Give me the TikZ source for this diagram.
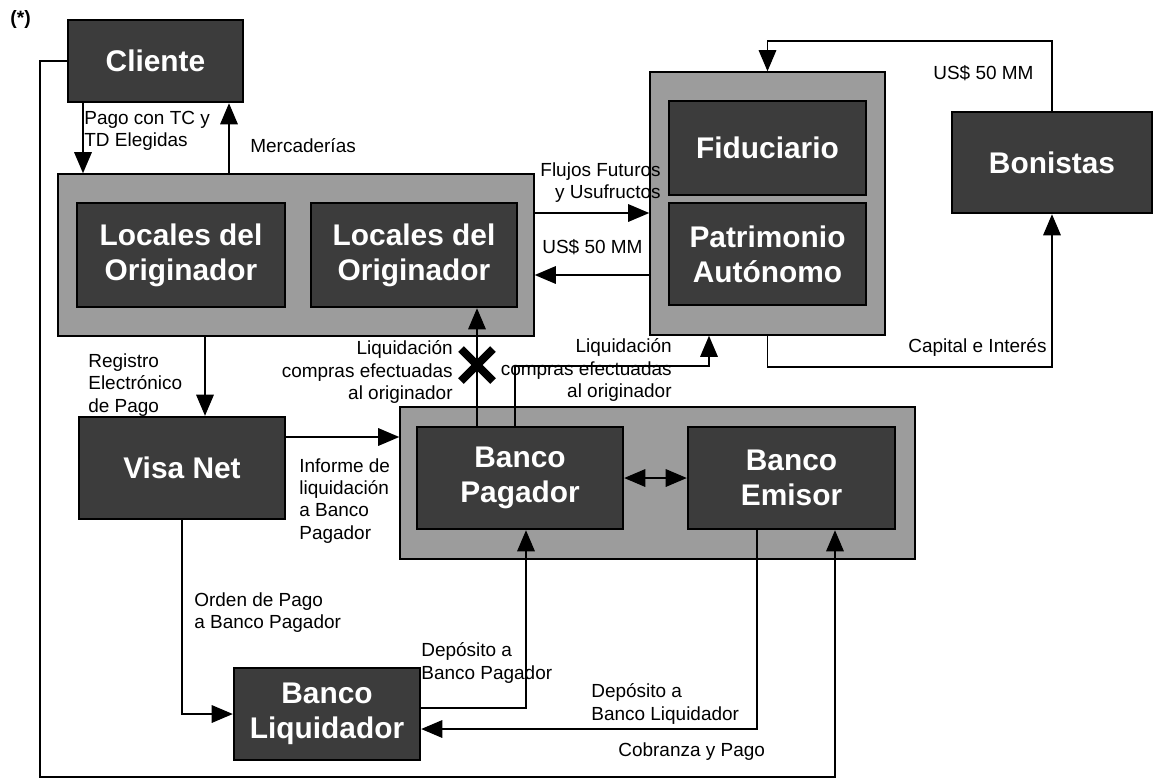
\documentclass[tikz,border=0pt]{standalone}
\usepackage{fontspec}
\setmainfont{Liberation Sans}
\usetikzlibrary{arrows.meta, positioning}
\definecolor{boxdark}{RGB}{60,60,60}
\definecolor{boxlight}{RGB}{156,156,156}

\begin{document}
\begin{tikzpicture}[x=0.02cm, y=-0.02cm,
    outer/.style={draw=black, line width=0.9pt, fill=boxlight, inner sep=0pt},
    inner/.style={draw=black, line width=1.4pt, fill=boxdark, text=white, align=center, inner sep=0pt, font=\fontsize{17}{20}\selectfont\bfseries},
    lbl/.style={inner sep=0pt, font=\fontsize{10.8}{12.6}\selectfont},
    arr/.style={line width=0.8pt, -{Triangle[length=12pt,width=10pt]}},
    darr/.style={line width=0.8pt, {Triangle[length=12pt,width=10pt]}-{Triangle[length=12pt,width=10pt]}},
    con/.style={line width=0.8pt}]
  \useasboundingbox (0,0) rectangle (1154,779);
  \node[lbl, anchor=west, font=\fontsize{11}{12}\selectfont\bfseries] (nota) at (10,19) {(*)};
  % Group boxes
  \node[outer, minimum width=9.52cm, minimum height=3.24cm] (orig) at (296,255) {};
  \node[outer, minimum width=4.7cm, minimum height=5.26cm] (fidbox) at (767.5,203.5) {};
  \node[outer, minimum width=10.3cm, minimum height=3.04cm] (bancos) at (657.5,483) {};
  % Parties
  \node[inner, minimum width=3.5cm, minimum height=1.64cm] (cliente) at (155.5,61) {Cliente};
  \node[inner, minimum width=4.16cm, minimum height=2.08cm] (loc1) at (181,255) {Locales del\\Originador};
  \node[inner, minimum width=4.12cm, minimum height=2.08cm] (loc2) at (414,255) {Locales del\\Originador};
  \node[inner, minimum width=3.94cm, minimum height=1.88cm] (fiduciario) at (767.5,148) {Fiduciario};
  \node[inner, minimum width=3.94cm, minimum height=2.04cm] (patrimonio) at (767.5,254) {Patrimonio\\Autónomo};
  \node[inner, minimum width=4.0cm, minimum height=2.02cm] (bonistas) at (1052,162.5) {Bonistas};
  \node[inner, minimum width=4.12cm, minimum height=2.04cm] (visa) at (182,468) {Visa Net};
  \node[inner, minimum width=4.12cm, minimum height=2.04cm] (pagador) at (520,478) {Banco\\Pagador};
  \node[inner, minimum width=4.14cm, minimum height=2.04cm] (emisor) at (791.5,478) {Banco\\Emisor};
  \node[inner, minimum width=3.72cm, minimum height=1.84cm] (liquidador) at (327,714) {Banco\\Liquidador};
  % Cliente and Originador
  \draw[arr] (cliente.south -| 83,0) -- (orig.north -| 83,0);
  \draw[arr] (orig.north -| 229,0) -- (cliente.south -| 229,0);
  \node[lbl, anchor=west, align=left] (pago) at (84,131) {Pago con TC y\\TD Elegidas};
  \node[lbl, anchor=west] (merc) at (250,146) {Mercaderías};
  % Originador and Patrimonio
  \draw[arr] (orig.east |- 0,213) -- (fidbox.west |- 0,213);
  \draw[arr] (fidbox.west |- 0,275) -- (orig.east |- 0,275);
  \node[lbl, anchor=east, align=right] (flujos) at (661,183) {Flujos Futuros\\y Usufructos};
  \node[lbl, anchor=west] (usa) at (542,247) {US\$ 50 MM};
  % Bonistas
  \draw[arr] (bonistas.north) -- (bonistas.north |- 0,41) -| (fidbox.north);
  \draw[arr] (fidbox.south) -- (fidbox.south |- 0,367) -| (bonistas.south);
  \node[lbl, anchor=west] (usb) at (933,73) {US\$ 50 MM};
  \node[lbl, anchor=west] (capital) at (908,347) {Capital e Interés};
  % Visa Net
  \draw[arr] (orig.south -| 205,0) -- (visa.north -| 205,0);
  \draw[arr] (visa.east |- 0,437) -- (bancos.west |- 0,437);
  \node[lbl, anchor=west, align=left] (registro) at (88,385) {Registro\\Electrónico\\de Pago};
  \node[lbl, anchor=west, align=left] (informe) at (299,501) {Informe de\\liquidación\\a Banco\\Pagador};
  % Liquidacion
  \draw[arr] (pagador.north -| 477,0) -- (loc2.south -| 477,0);
  \coordinate (corte) at (477,365);
  \draw[line width=4.5pt] (corte) ++(-16,-16) -- ++(32,32) (corte) ++(16,-16) -- ++(-32,32);
  \draw[arr] (pagador.north -| 515,0) -- (515,366) -- (709,366) -- (fidbox.south -| 709,0);
  \node[lbl, anchor=east, align=right] (liqa) at (453,372) {Liquidación\\compras efectuadas\\al originador};
  \node[lbl, anchor=east, align=right] (liqb) at (672,370) {Liquidación\\compras efectuadas\\al originador};
  \draw[darr] (pagador.east) -- (emisor.west);
  % Banco Liquidador
  \draw[arr] (visa.south -| 182,0) -- (182,714) -- (liquidador.west);
  \draw[arr] (liquidador.east |- 0,708) -- (526,708) -- (pagador.south -| 526,0);
  \draw[arr] (emisor.south -| 757,0) -- (757,729) -- (liquidador.east |- 0,729);
  \draw[arr] (cliente.west) -- (40,61) -- (40,777) -- (835,777) -- (emisor.south -| 835,0);
  \node[lbl, anchor=west, align=left] (orden) at (194,613) {Orden de Pago\\a Banco Pagador};
  \node[lbl, anchor=west, align=left] (depa) at (421,663) {Depósito a\\Banco Pagador};
  \node[lbl, anchor=west, align=left] (depb) at (591,704) {Depósito a\\Banco Liquidador};
  \node[lbl, anchor=west] (cobranza) at (618,752) {Cobranza y Pago};
\end{tikzpicture}
\end{document}
